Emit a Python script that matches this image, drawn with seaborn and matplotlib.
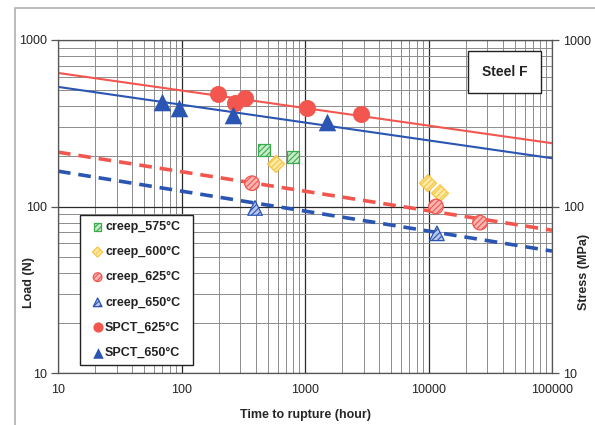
import numpy as np
import pandas as pd
import matplotlib
matplotlib.use('Agg')
import matplotlib.pyplot as plt
import matplotlib.patches as mpatches
import seaborn as sns

# datos
creep_575_t = [466, 800]
creep_575_load = [218, 198]
creep_600_t = [582, 9900, 12400]
creep_600_load = [180, 138, 120]
creep_625_t = [372, 11500, 26100]
creep_625_load = [138, 100, 80]
creep_650_t = [394, 11700]
creep_650_load = [98, 69]
spct_625_t = [198, 271, 327, 1038, 2840]
spct_625_load = [474, 419, 449, 390, 359]
spct_650_t = [70, 95, 261, 1507]
spct_650_load = [425, 390, 355, 321]

fit_t = [10, 100000]
fit_spct_625 = [634, 240]
fit_spct_650 = [523, 195]
fit_creep_625 = [212, 72]
fit_creep_650 = [163, 54]

RED = '#f2564f'
BLUE = '#2b55b3'
GREEN = '#3aab4c'
YELLOW = '#f7c53e'


sns.set_style('white')
plt.rcParams['font.family'] = ['Liberation Sans', 'DejaVu Sans']
plt.rcParams['hatch.linewidth'] = 0.8

fig = plt.figure(figsize=(5.95, 4.25), dpi=100)
ax = fig.add_axes([58/595, 52/425, 494/595, 333/425])

# marco exterior
fig.patches.append(mpatches.Rectangle((15/595, -0.1), 1.2, (425-8)/425 + 0.1,
                                      transform=fig.transFigure, fill=False,
                                      edgecolor='#b0b0b0', linewidth=1.2))

ax.set_xscale('log')
ax.set_yscale('log')
ax.set_xlim(10, 100000)
ax.set_ylim(10, 1000)

ax.grid(True, which='major', color='#2a2a2a', linewidth=0.9)
ax.grid(True, which='minor', color='#8c8c8c', linewidth=0.7)
ax.set_axisbelow(True)

# lineas de ajuste
sns.lineplot(x=fit_t, y=fit_spct_625, ax=ax, color=RED, linewidth=1.5, zorder=2)
sns.lineplot(x=fit_t, y=fit_spct_650, ax=ax, color=BLUE, linewidth=1.5, zorder=2)
sns.lineplot(x=fit_t, y=fit_creep_625, ax=ax, color=RED, linewidth=2.6,
             linestyle=(0, (3.5, 2.2)), zorder=2)
sns.lineplot(x=fit_t, y=fit_creep_650, ax=ax, color=BLUE, linewidth=2.6,
             linestyle=(0, (3.5, 2.2)), zorder=2)

handles = []
h = ax.scatter(creep_575_t, creep_575_load, marker='s', s=80, facecolor='#c9ebc9',
               edgecolor=GREEN, hatch='//////', linewidth=0.9, zorder=3, label='creep_575°C')
handles.append(h)
h = ax.scatter(creep_600_t, creep_600_load, marker='D', s=75, facecolor='#fde9a8',
               edgecolor=YELLOW, hatch='//////', linewidth=0.9, zorder=3, label='creep_600°C')
handles.append(h)
h = ax.scatter(creep_625_t, creep_625_load, marker='o', s=110, facecolor='#f8b5b1',
               edgecolor=RED, hatch='//////', linewidth=0.9, zorder=3, label='creep_625°C')
handles.append(h)
h = ax.scatter(creep_650_t, creep_650_load, marker='^', s=110, facecolor='#b7c6ea',
               edgecolor=BLUE, hatch='//////', linewidth=0.9, zorder=3, label='creep_650°C')
handles.append(h)

df_spct = pd.DataFrame({'t': spct_625_t, 'load': spct_625_load})
sns.scatterplot(data=df_spct, x='t', y='load', ax=ax, marker='o', s=150, color=RED,
                edgecolor=RED, linewidth=0, zorder=3)
handles.append(ax.collections[-1])
df_spct = pd.DataFrame({'t': spct_650_t, 'load': spct_650_load})
sns.scatterplot(data=df_spct, x='t', y='load', ax=ax, marker='^', s=160, color=BLUE,
                edgecolor=BLUE, linewidth=0, zorder=3)
handles.append(ax.collections[-1])
labels = ['creep_575°C', 'creep_600°C', 'creep_625°C', 'creep_650°C',
          'SPCT_625°C', 'SPCT_650°C']

# ejes
ax.set_xticks([10, 100, 1000, 10000, 100000])
ax.set_xticklabels(['10', '100', '1000', '10000', '100000'])
ax.set_yticks([10, 100, 1000])
ax.set_yticklabels(['10', '100', '1000'])
ax.tick_params(which='major', length=5, width=0.9, color='#555555',
               labelsize=9, labelcolor='#222222', pad=3)
ax.tick_params(which='minor', length=0)
ax.set_xlabel('Time to rupture (hour)', fontsize=9, fontweight='bold', labelpad=9)
ax.set_ylabel('Load (N)', fontsize=9, fontweight='bold')
ax.yaxis.set_label_coords((35-58)/494, (373-283)/333)
for sp in ax.spines.values():
    sp.set_color('#555555')
    sp.set_linewidth(0.9)

ax2 = ax.twinx()
ax2.set_yscale('log')
ax2.set_ylim(10, 1000)
ax2.set_yticks([10, 100, 1000])
ax2.set_yticklabels(['10', '100', '1000'])
ax2.tick_params(which='major', length=5, width=0.9, color='#555555',
                labelsize=9, labelcolor='#222222', pad=3)
ax2.tick_params(which='minor', length=0)
ax2.set_ylabel('Stress (MPa)', fontsize=9, fontweight='bold')
ax2.yaxis.set_label_coords((578-58)/494, (373-272)/333)
for sp in ax2.spines.values():
    sp.set_visible(False)

# leyenda
x0, y0 = (80-58)/494, (373-365)/333
w, hgt = 113/494, 150/333
ax.add_patch(mpatches.Rectangle((x0, y0), w, hgt, transform=ax.transAxes,
                                facecolor='white', edgecolor='#222222',
                                linewidth=1.0, zorder=4))
leg = ax.legend(handles, labels, loc='center', bbox_to_anchor=(x0 + w/2, y0 + hgt/2),
                frameon=False, fontsize=9, markerscale=0.6, handlelength=0.8,
                handletextpad=0.2, labelspacing=1.05, borderpad=0.3)
leg.set_zorder(5)
for t in leg.get_texts():
    t.set_fontweight('bold')
    t.set_color('#222222')

ax.text(0.904, 0.905, 'Steel F', transform=ax.transAxes, ha='center', va='center',
        fontsize=10, fontweight='bold', color='#222222', zorder=6,
        bbox=dict(boxstyle='square,pad=1.0', facecolor='white', edgecolor='#222222',
                  linewidth=1.0))

plt.savefig('out.png', dpi=100)
